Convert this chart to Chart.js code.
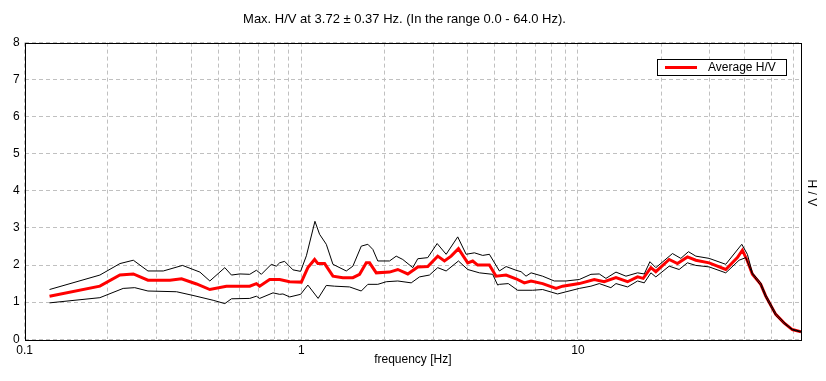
<!DOCTYPE html>
<html>
<head>
<meta charset="utf-8">
<script src="https://cdn.jsdelivr.net/npm/chart.js@4.4.1/dist/chart.umd.min.js"></script>
<style>
	html, body { margin: 0; padding: 0; background: #fff; }
	#wrap { width: 826px; height: 381px; }
</style>
</head>
<body>
<div id="wrap"><canvas id="hvChart" width="826" height="381"></canvas></div>
<script>
const chartTitle = "Max. H/V at 3.72 \u00b1 0.37 Hz. (In the range 0.0 - 64.0 Hz).";
const xTitle = "frequency [Hz]";
const yTitle = "H / V";
const xLabels = [0.1, 1, 10];
const yTicks = [0, 1, 2, 3, 4, 5, 6, 7, 8];

// average H/V curve (red)
const avgFreq = [0.123, 0.187, 0.221, 0.247, 0.279, 0.335, 0.369, 0.418, 0.467, 0.536, 0.651, 0.688, 0.707, 0.768, 0.835, 0.907, 1.0, 1.056, 1.117, 1.148, 1.214, 1.301, 1.413, 1.536, 1.624, 1.717, 1.765, 1.866, 2.084, 2.232, 2.426, 2.636, 2.864, 3.112, 3.291, 3.479, 3.698, 3.994, 4.164, 4.340, 4.784, 5.058, 5.497, 5.973, 6.399, 6.766, 7.450, 8.331, 8.800, 10.11, 11.45, 12.44, 13.72, 15.11, 16.42, 17.21, 18.35, 19.12, 21.36, 22.89, 24.87, 26.67, 29.79, 34.21, 37.69, 39.30, 40.96, 42.70, 45.78, 47.72, 51.86, 55.56, 59.53, 64];
const avgHV = [1.16, 1.43, 1.73, 1.76, 1.59, 1.59, 1.63, 1.49, 1.34, 1.43, 1.43, 1.50, 1.43, 1.61, 1.61, 1.55, 1.54, 1.93, 2.15, 2.04, 2.04, 1.70, 1.66, 1.66, 1.75, 2.06, 2.06, 1.79, 1.81, 1.88, 1.76, 1.95, 1.96, 2.24, 2.11, 2.24, 2.44, 2.06, 2.11, 2.00, 2.00, 1.70, 1.73, 1.63, 1.52, 1.57, 1.50, 1.37, 1.43, 1.50, 1.61, 1.55, 1.66, 1.55, 1.68, 1.64, 1.93, 1.82, 2.15, 2.04, 2.22, 2.13, 2.06, 1.88, 2.20, 2.40, 2.11, 1.75, 1.48, 1.16, 0.67, 0.44, 0.26, 0.20];

// upper limit (black)
const upFreq = [0.123, 0.187, 0.221, 0.247, 0.279, 0.317, 0.372, 0.430, 0.467, 0.529, 0.559, 0.599, 0.651, 0.688, 0.717, 0.779, 0.812, 0.835, 0.870, 0.933, 0.994, 1.043, 1.120, 1.164, 1.231, 1.301, 1.454, 1.536, 1.647, 1.740, 1.814, 1.890, 2.084, 2.203, 2.327, 2.529, 2.636, 2.864, 3.097, 3.338, 3.676, 3.942, 4.223, 4.525, 4.784, 5.200, 5.500, 5.970, 6.230, 6.490, 6.770, 7.450, 8.210, 9.050, 10.11, 11.14, 11.94, 12.62, 13.72, 14.91, 16.42, 17.36, 18.20, 19.12, 21.96, 23.54, 25.08, 26.67, 29.79, 34.21, 39.10, 40.96, 42.70, 45.78, 47.72, 51.86, 55.56, 59.53, 64];
const upHV = [1.34, 1.73, 2.04, 2.13, 1.84, 1.84, 1.99, 1.81, 1.57, 1.93, 1.73, 1.76, 1.75, 1.86, 1.75, 2.02, 1.97, 2.06, 2.10, 1.87, 1.83, 2.25, 3.18, 2.83, 2.56, 2.02, 1.84, 1.97, 2.51, 2.56, 2.42, 2.11, 2.11, 2.24, 2.15, 1.93, 2.17, 2.20, 2.58, 2.29, 2.76, 2.29, 2.33, 2.26, 2.29, 1.84, 1.96, 1.86, 1.82, 1.70, 1.79, 1.70, 1.57, 1.57, 1.61, 1.75, 1.76, 1.64, 1.81, 1.70, 1.79, 1.76, 2.09, 1.93, 2.31, 2.18, 2.36, 2.24, 2.18, 2.02, 2.56, 2.29, 1.79, 1.52, 1.20, 0.70, 0.46, 0.27, 0.21];

// lower limit (black)
const lowFreq = [0.123, 0.187, 0.227, 0.250, 0.279, 0.354, 0.406, 0.480, 0.529, 0.559, 0.651, 0.688, 0.707, 0.790, 0.835, 0.858, 0.908, 0.994, 1.056, 1.150, 1.231, 1.319, 1.494, 1.647, 1.740, 1.890, 2.028, 2.232, 2.496, 2.674, 2.905, 3.112, 3.338, 3.698, 3.994, 4.402, 4.917, 5.125, 5.200, 5.600, 6.050, 6.860, 7.450, 8.440, 10.11, 11.14, 11.94, 13.15, 13.72, 15.11, 16.42, 17.36, 18.35, 19.12, 21.36, 23.21, 24.87, 26.67, 29.79, 34.21, 38.23, 40.42, 42.70, 45.78, 47.72, 51.86, 55.56, 59.53, 64];
const lowHV = [0.98, 1.12, 1.37, 1.39, 1.30, 1.28, 1.18, 1.05, 0.96, 1.09, 1.10, 1.16, 1.10, 1.25, 1.21, 1.22, 1.14, 1.21, 1.46, 1.10, 1.45, 1.43, 1.41, 1.30, 1.48, 1.48, 1.55, 1.57, 1.52, 1.68, 1.73, 1.93, 1.84, 2.11, 1.88, 1.79, 1.75, 1.46, 1.48, 1.50, 1.32, 1.32, 1.34, 1.22, 1.37, 1.43, 1.50, 1.39, 1.50, 1.41, 1.57, 1.52, 1.79, 1.68, 1.97, 1.88, 2.06, 1.99, 1.95, 1.79, 2.13, 2.20, 1.75, 1.45, 1.13, 0.64, 0.42, 0.25, 0.19];

const FONT = "'Liberation Sans', Arial, sans-serif";

function toPoints(freqs, values) {
	return freqs.map((f, i) => ({ x: f, y: values[i] }));
}

// grid lines at 1..9 x 10^n
function logGridValues(min, max) {
	var vals = [];
	for (var dec = 0.1; dec < max; dec *= 10) {
		for (var m = 1; m <= 9; m++) {
			var v = +(m * dec).toPrecision(3);
			if (v >= min && v <= max) vals.push(v);
		}
	}
	return vals;
}

// frame, inner legend box and the rotated right-hand label
const framePlugin = {
	id: 'framePlugin',
	afterDraw(chart) {
		const ctx = chart.ctx;
		const a = chart.chartArea;
		ctx.save();
		ctx.strokeStyle = '#000';
		ctx.lineWidth = 1;
		ctx.setLineDash([]);
		ctx.strokeRect(Math.round(a.left) + 0.5, Math.round(a.top) + 0.5, Math.round(a.right - a.left), Math.round(a.bottom - a.top));

		// legend
		const boxW = 129, boxH = 16;
		const bx = Math.round(a.right) - 15 - boxW;
		const by = Math.round(a.top) + 16;
		ctx.fillStyle = '#fff';
		ctx.fillRect(bx, by, boxW, boxH);
		ctx.strokeRect(bx + 0.5, by + 0.5, boxW, boxH);
		const ds = chart.data.datasets[2];
		ctx.strokeStyle = ds.borderColor;
		ctx.lineWidth = 3;
		ctx.beginPath();
		ctx.moveTo(bx + 8, by + 8.5);
		ctx.lineTo(bx + 40, by + 8.5);
		ctx.stroke();
		ctx.fillStyle = '#000';
		ctx.font = "12px " + FONT;
		ctx.textBaseline = 'middle';
		ctx.textAlign = 'left';
		ctx.fillText(ds.label, bx + 51, by + 9);

		// right label
		ctx.translate(Math.round(a.right) + 10, (a.top + a.bottom) / 2 + 2);
		ctx.rotate(Math.PI / 2);
		ctx.textAlign = 'center';
		ctx.fillText(yTitle, 0, 0);
		ctx.restore();
	}
};

const ctx = document.getElementById('hvChart').getContext('2d');
const hvChart = new Chart(ctx, {
	type: 'line',
	data: {
		datasets: [{
			label: 'Upper',
			data: toPoints(upFreq, upHV),
			borderColor: '#000',
			borderWidth: 1,
			pointRadius: 0,
			tension: 0,
		}, {
			label: 'Lower',
			data: toPoints(lowFreq, lowHV),
			borderColor: '#000',
			borderWidth: 1,
			pointRadius: 0,
			tension: 0,
		}, {
			label: 'Average H/V',
			data: toPoints(avgFreq, avgHV),
			borderColor: '#ff0000',
			borderWidth: 3,
			pointRadius: 0,
			tension: 0,
		}],
	},
	options: {
		responsive: false,
		animation: false,
		devicePixelRatio: 1,
		layout: {
			padding: { left: 8, right: 25, top: 0, bottom: 14 },
		},
		plugins: {
			legend: { display: false },
			tooltip: { enabled: false },
			title: {
				display: true,
				text: chartTitle,
				color: '#000',
				font: { family: FONT, size: 13, weight: 'normal' },
				padding: { top: 12, bottom: 15 },
			},
		},
		scales: {
			x: {
				type: 'logarithmic',
				min: 0.1,
				max: 64,
				afterBuildTicks: (scale) => {
					scale.ticks = logGridValues(0.1, 64).map(v => ({ value: v }));
				},
				ticks: {
					autoSkip: false,
					maxRotation: 0,
					color: '#000',
					padding: 4,
					font: { family: FONT, size: 12 },
					callback: (value) => xLabels.includes(value) ? String(value) : '',
				},
				grid: {
					color: '#c0c0c0',
					lineWidth: 1,
					drawTicks: false,
				},
				border: { display: false, dash: [4, 3] },
				title: {
					display: true,
					text: xTitle,
					color: '#000',
					font: { family: FONT, size: 12 },
					padding: { top: -9, bottom: 0 },
				},
			},
			y: {
				min: 0,
				max: 8,
				afterBuildTicks: (scale) => {
					scale.ticks = yTicks.map(v => ({ value: v }));
				},
				ticks: {
					color: '#000',
					padding: 5,
					font: { family: FONT, size: 12 },
				},
				grid: {
					color: '#c0c0c0',
					lineWidth: 1,
					drawTicks: false,
				},
				border: { display: false, dash: [4, 3] },
			},
		},
	},
	plugins: [framePlugin],
});
</script>
</body>
</html>
